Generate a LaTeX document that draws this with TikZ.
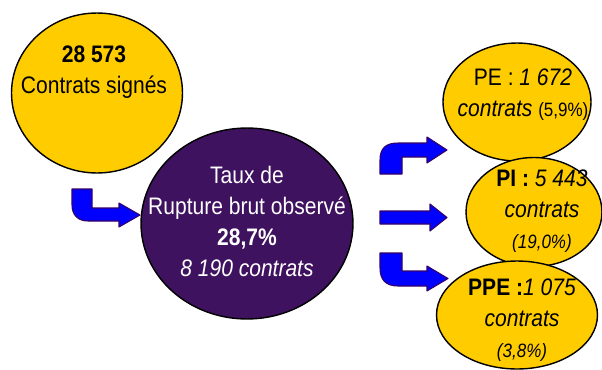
\documentclass[tikz,border=0pt]{standalone}
\usepackage{fontspec}
\setmainfont{Liberation Sans}[FakeStretch=0.88]
\usepackage{tikz}
\usetikzlibrary{shapes.geometric}
\definecolor{gold}{RGB}{255,204,0}
\definecolor{plum}{RGB}{63,18,96}
\definecolor{arrowblue}{RGB}{0,0,255}
\definecolor{arrowedge}{RGB}{51,0,102}
\newcommand{\pct}[1]{{\fontsize{11}{12}\selectfont #1}}

\begin{document}
\begin{tikzpicture}[x=0.02cm, y=-0.02cm,
    bubble/.style={ellipse, draw=black, line width=0.8pt, fill=gold, inner sep=0pt},
    words/.style={align=center, inner sep=0pt, font=\fontsize{13.6}{17.5}\selectfont},
    blockarrow/.style={fill=arrowblue, draw=arrowedge, line width=0.6pt, line join=round}]
  \useasboundingbox (0,0) rectangle (602,369);

  % the bubbles
  \node [bubble, minimum width=3.42cm, minimum height=3.2cm] (sig) at (97,93) {};
  \node [bubble, fill=plum, minimum width=4.24cm, minimum height=3.82cm] (rupt) at (247,223.5) {};
  \node [bubble, minimum width=2.96cm, minimum height=2.36cm] (pe) at (517,102) {};
  \node [bubble, minimum width=2.72cm, minimum height=2.18cm] (pi) at (534,212) {};
  \node [bubble, minimum width=3.22cm, minimum height=2.16cm] (ppe) at (517,315) {};

  % their texts
  \node [words] (sigtxt) at ([shift={(-3,-20.5)}]sig.center)
    {\textbf{28 573}\\Contrats signés};
  \node [words, text=white] (rupttxt) at ([shift={(0,-2)}]rupt.center)
    {Taux de\\Rupture brut observé\\\textbf{28,7\%}\\\textit{8 190 contrats}};
  \node [words] (petxt) at ([shift={(6,-7.5)}]pe.center)
    {PE : \textit{1 672}\\\textit{contrats} \pct{(5,9\%)}};
  \node [words] (pitxt) at ([shift={(8,-1)}]pi.center)
    {\textbf{PI :} \textit{5 443}\\\textit{contrats}\\\pct{\textit{(19,0\%)}}};
  \node [words] (ppetxt) at ([shift={(5,5)}]ppe.center)
    {\textbf{PPE :}\textit{1 075}\\\textit{contrats}\\\pct{\textit{(3,8\%)}}};

  % block arrows
  \draw [blockarrow] (72,189) -- (92,189) -- (92,208) -- (119,208) -- (119,203) -- (140,215)
    -- (119,227) -- (119,221) -- (88,221) .. controls (78,221) and (72,215) .. (72,205) -- cycle;
  \draw [blockarrow] (380,174) -- (380,160) .. controls (380,148) and (386,143) .. (398,143)
    -- (427,143) -- (427,137) -- (447,150) -- (427,163) -- (427,157) -- (402,157) -- (402,174) -- cycle;
  \draw [blockarrow] (380,211) -- (430,211) -- (430,204) -- (447,217.5) -- (430,231)
    -- (430,224) -- (380,224) -- cycle;
  \draw [blockarrow] (380,253) -- (402,253) -- (402,271) -- (427,271) -- (427,266) -- (448,278.5)
    -- (427,291) -- (427,286) -- (398,286) .. controls (386,286) and (380,280) .. (380,268) -- cycle;
\end{tikzpicture}
\end{document}
